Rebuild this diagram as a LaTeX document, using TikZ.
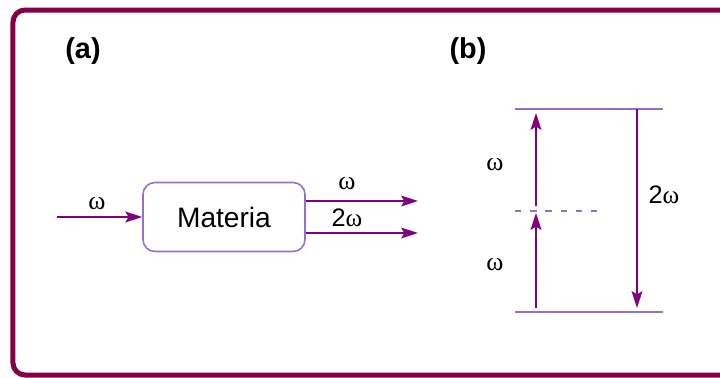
\documentclass[tikz,border=0pt]{standalone}
\usepackage{fontspec}
\setmainfont{Liberation Sans}
\newfontfamily\grk{Liberation Serif}
\usetikzlibrary{arrows.meta,positioning}
\definecolor{framecol}{HTML}{850045}
\definecolor{beamcol}{HTML}{800080}
\definecolor{levelcol}{HTML}{9070D0}
\tikzset{
  beam/.style={draw=beamcol, line width=1.4pt, -{Stealth[length=0.42cm,width=0.27cm,inset=0.08cm]}},
  lvl/.style={draw=levelcol, line width=1.4pt},
  freq/.style={font=\grk\fontsize{18.5}{20}\selectfont, inner sep=0pt},
  two/.style={font=\fontsize{18}{20}\selectfont, inner sep=0pt},
  panel/.style={font=\bfseries\fontsize{20.5}{22}\selectfont, inner sep=0pt},
}
\begin{document}
\begin{tikzpicture}
	\clip (0,0) rectangle (18,9.425);
	\useasboundingbox (0,0) rectangle (18,9.425);
	\draw[framecol, line width=0.125cm, rounded corners=0.3cm] (0.325,0.05) rectangle (18.6,9.175);

	% (a) the material
	\node[panel] (lbla) at (2.075,8.15) {(a)};
	\node[draw=levelcol, line width=1.1pt, rounded corners=0.3cm, minimum width=4.05cm,
		minimum height=1.725cm, font=\fontsize{20}{22}\selectfont] (mat) at (5.6,4.0) {Materia};
	\coordinate (in) at (1.425,4.0);
	\coordinate (out1) at (10.45,4.4);
	\coordinate (out2) at (10.45,3.6);
	\draw[beam] (in) -- (mat.west);
	\draw[beam] (mat.east |- out1) -- (out1);
	\draw[beam] (mat.east |- out2) -- (out2);
	\node[freq] (win) at (2.425,4.325) {ω};
	\node[freq] (wout) at (8.675,4.825) {ω};
	\node[two] (wtwo) at (8.675,3.975) {2{\grk ω}};

	% (b) the levels
	\node[panel] (lblb) at (11.7,8.15) {(b)};
	\coordinate (g0) at (12.875,1.625);
	\coordinate (g1) at (16.575,1.625);
	\coordinate (e0) at (12.875,6.7);
	\coordinate (e1) at (16.575,6.7);
	\coordinate (v0) at (12.875,4.15);
	\coordinate (v1) at (14.95,4.15);
	\draw[lvl] (g0) -- (g1);
	\draw[lvl] (e0) -- (e1);
	\draw[lvl, line width=1.1pt, dash pattern=on 0.16cm off 0.22cm] (v0) -- (v1);
	\coordinate (up1s) at (13.4,1.725);
	\coordinate (up1e) at (13.4,4.1);
	\coordinate (up2s) at (13.4,4.275);
	\coordinate (up2e) at (13.4,6.6);
	\coordinate (dns) at (15.925,6.7);
	\coordinate (dne) at (15.925,1.725);
	\draw[beam] (up1s) -- (up1e);
	\draw[beam] (up2s) -- (up2e);
	\draw[beam] (dns) -- (dne);
	\node[freq] (wup2) at (12.375,5.3) {ω};
	\node[freq] (wup1) at (12.375,2.8) {ω};
	\node[two] (wdn) at (16.6,4.55) {2{\grk ω}};
\end{tikzpicture}
\end{document}
